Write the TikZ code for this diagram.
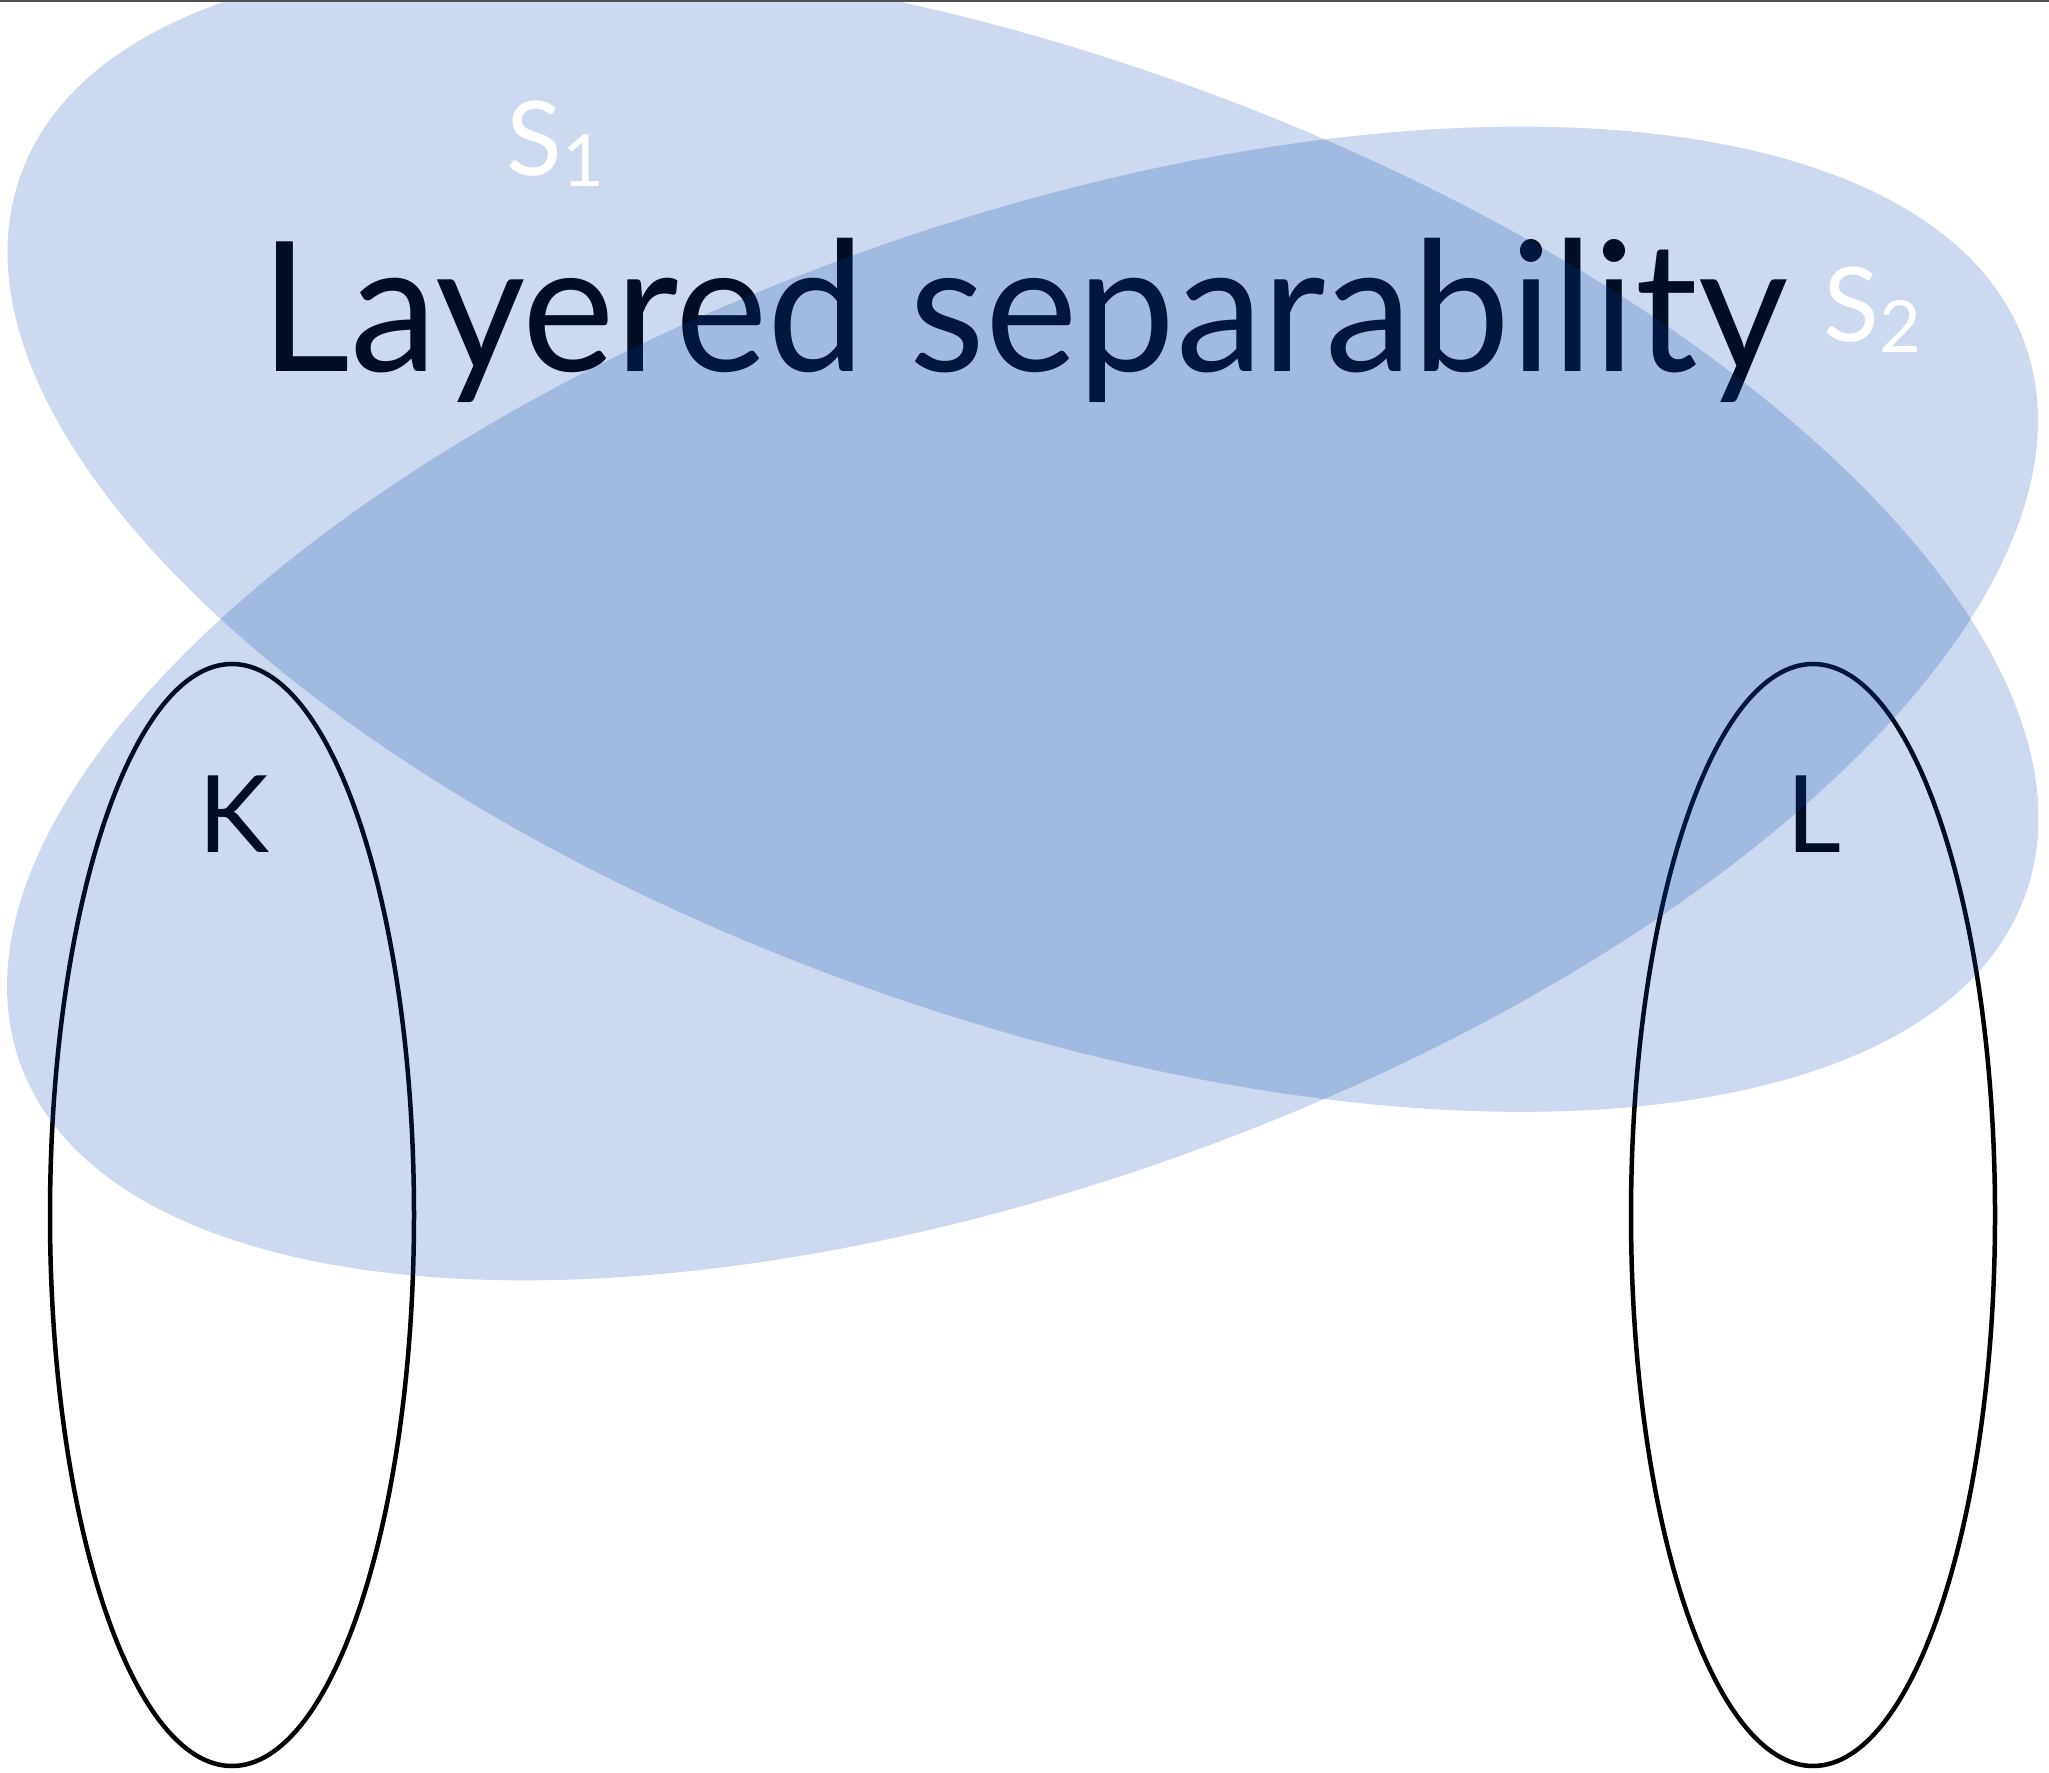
\documentclass[tikz,border=0pt]{standalone}
\usepackage{fontspec}
\setmainfont{Lato}
\definecolor{setblue}{RGB}{0,65,170}
\definecolor{topgray}{RGB}{80,80,80}
\begin{document}
\begin{tikzpicture}[x=1pt,y=1pt,
  setfill/.style={fill=setblue, fill opacity=0.2},
  ring/.style={draw=black, line width=4.5pt},
  lbl/.style={text=black, inner sep=0pt, font=\fontsize{107}{110}\selectfont},
  setlbl/.style={text=white, inner sep=0pt, font=\fontsize{103}{110}\selectfont},
]
\useasboundingbox (0,0) rectangle (2049,1772);
\fill[white] (0,0) rectangle (2049,1772);
\clip (0,0) rectangle (2049,1772);
\draw[ring] (232,557) ellipse [x radius=182, y radius=551];
\draw[ring] (1813,557) ellipse [x radius=182, y radius=551];
\node[anchor=base west, inner sep=0pt, xscale=0.966, font=\fontsize{181}{200}\selectfont] (title) at (260,1400) {Layered separability};
\node[lbl, anchor=base] (K) at (234,919) {K};
\node[lbl, anchor=base] (L) at (1814,919) {L};
\fill[setfill, rotate around={-19.75:(1023,1237)}] (1023,1237) ellipse [x radius=1065, y radius=479];
\fill[setfill, rotate around={19.75:(1022.5,1068.5)}] (1022.5,1068.5) ellipse [x radius=1065, y radius=479];
\node[setlbl, anchor=base west] (s1) at (506,1596) {S\raisebox{-11pt}{\fontsize{72}{72}\selectfont 1}};
\node[setlbl, anchor=base west] (s2) at (1823,1430) {S\raisebox{-11pt}{\fontsize{72}{72}\selectfont 2}};
\draw[topgray, line width=5pt] (0,1772) -- (2049,1772);
\end{tikzpicture}
\end{document}
